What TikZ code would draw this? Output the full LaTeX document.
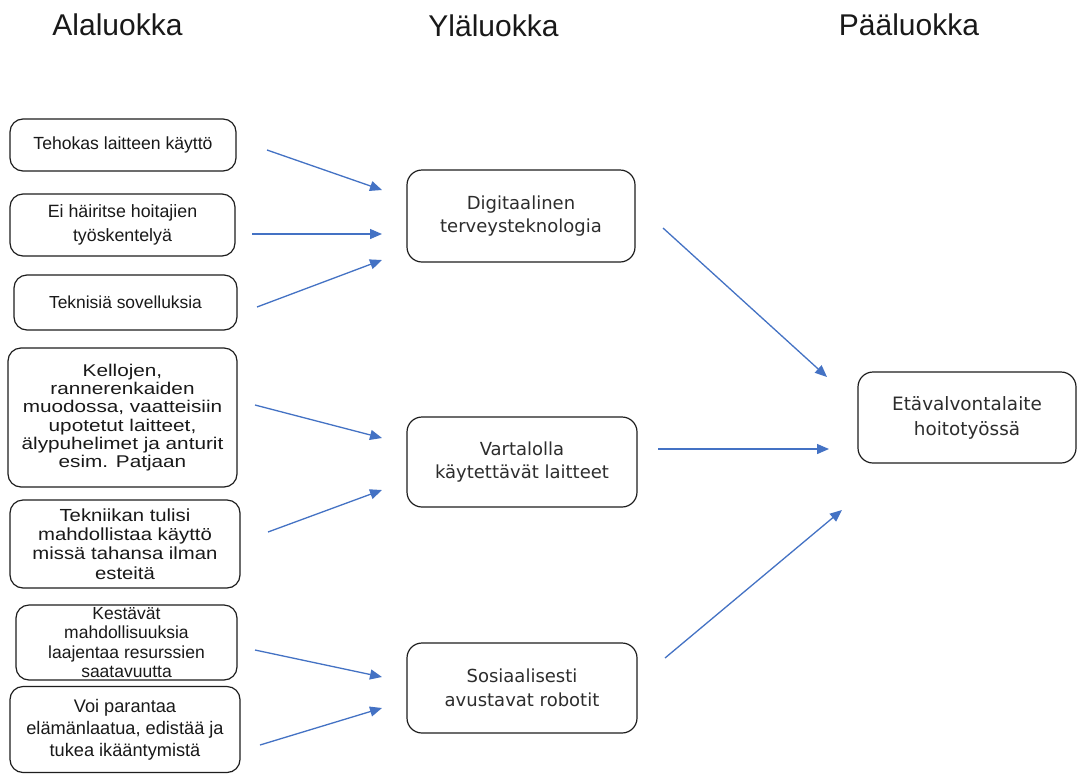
\documentclass[tikz,border=0pt]{standalone}
\usepackage{fontspec}
\setmainfont{Liberation Sans}
\newfontfamily\vsans{DejaVu Sans}
\newfontfamily\widesans[FakeStretch=1.22]{Liberation Sans}
\newfontfamily\semiwidesans[FakeStretch=1.16]{Liberation Sans}
\usetikzlibrary{arrows.meta}
\definecolor{arrowblue}{RGB}{68,114,196}
\definecolor{boxline}{RGB}{30,30,30}
\definecolor{txtdark}{RGB}{25,25,25}
\definecolor{txtmid}{RGB}{45,45,45}
\tikzset{
  leftbox/.style={draw=boxline, line width=1.2pt, rounded corners=13pt, inner sep=0pt, align=center, text=txtdark},
  midbox/.style={draw=boxline, line width=1.2pt, rounded corners=15pt, inner sep=0pt, align=center, text=txtmid, font=\vsans\fontsize{18}{23.5}\selectfont},
  header/.style={anchor=base, text=txtdark, font=\fontsize{30}{34}\selectfont},
  conn/.style={draw=arrowblue, line width=1.3pt, -{Triangle[length=12pt,width=10pt]}},
}
\begin{document}
\begin{tikzpicture}[x=1pt,y=-1pt]
\useasboundingbox (0,0) rectangle (1078,774);
\fill[white] (0,0) rectangle (1078,774);
% headers
\node[header] (h1) at (117.5,35) {Alaluokka};
\node[header] (h2) at (493.5,36) {Yläluokka};
\node[header] (h3) at (909,35) {Pääluokka};
% left boxes
\node[leftbox, minimum width=226pt, minimum height=52pt, font=\fontsize{17.6}{20}\selectfont] (l1) at (123,145) {Tehokas laitteen käyttö};
\node[leftbox, minimum width=225pt, minimum height=62pt, font=\fontsize{17.8}{24}\selectfont] (l2) at (122.5,225) {Ei häiritse hoitajien\\työskentelyä};
\node[leftbox, minimum width=223pt, minimum height=55pt, font=\fontsize{17.4}{20}\selectfont] (l3) at (125.5,302.5) {Teknisiä sovelluksia};
\node[leftbox, minimum width=229pt, minimum height=139pt, font=\widesans\fontsize{17}{18.2}\selectfont] (l4) at (122.5,417.5) {Kellojen,\\rannerenkaiden\\muodossa, vaatteisiin\\upotetut laitteet,\\älypuhelimet ja anturit\\esim. Patjaan};
\node[leftbox, minimum width=230pt, minimum height=88pt, font=\semiwidesans\fontsize{17.5}{19.2}\selectfont] (l5) at (125,544) {Tekniikan tulisi\\mahdollistaa käyttö\\missä tahansa ilman\\esteitä};
\node[leftbox, minimum width=221pt, minimum height=75pt, font=\fontsize{17.5}{19.5}\selectfont] (l6) at (126.5,642.5) {Kestävät\\mahdollisuuksia\\laajentaa resurssien\\saatavuutta};
\node[leftbox, minimum width=230pt, minimum height=86pt, font=\fontsize{18.2}{22}\selectfont] (l7) at (125,729.5) {Voi parantaa\\elämänlaatua, edistää ja\\tukea ikääntymistä};
% middle boxes
\node[midbox, minimum width=228pt, minimum height=92pt] (m1) at (521,216) {Digitaalinen\\terveysteknologia};
\node[midbox, minimum width=230pt, minimum height=90pt] (m2) at (522,462) {Vartalolla\\käytettävät laitteet};
\node[midbox, minimum width=230pt, minimum height=90pt] (m3) at (522,688) {Sosiaalisesti\\avustavat robotit};
% right box
\node[midbox, minimum width=218pt, minimum height=91pt, font=\vsans\fontsize{18.4}{25}\selectfont] (r) at (967,417.5) {Etävalvontalaite\\hoitotyössä};
% connector end points
\coordinate (a1s) at (267,150); \coordinate (a1e) at (382,190);
\coordinate (a2s) at (252,234); \coordinate (a2e) at (382,234);
\coordinate (a3s) at (257,307); \coordinate (a3e) at (382,260);
\coordinate (a4s) at (255,405); \coordinate (a4e) at (382,438);
\coordinate (a5s) at (268,532); \coordinate (a5e) at (382,490);
\coordinate (a6s) at (255,650); \coordinate (a6e) at (382,677);
\coordinate (a7s) at (260,745); \coordinate (a7e) at (382,708);
\coordinate (b1s) at (663,228); \coordinate (b1e) at (827,377);
\coordinate (b2s) at (658,449); \coordinate (b2e) at (829,449);
\coordinate (b3s) at (665,658); \coordinate (b3e) at (842,510);
\draw[conn] (a1s) -- (a1e);
\draw[conn] (a2s) -- (a2e);
\draw[conn] (a3s) -- (a3e);
\draw[conn] (a4s) -- (a4e);
\draw[conn] (a5s) -- (a5e);
\draw[conn] (a6s) -- (a6e);
\draw[conn] (a7s) -- (a7e);
\draw[conn] (b1s) -- (b1e);
\draw[conn] (b2s) -- (b2e);
\draw[conn] (b3s) -- (b3e);
\end{tikzpicture}
\end{document}
